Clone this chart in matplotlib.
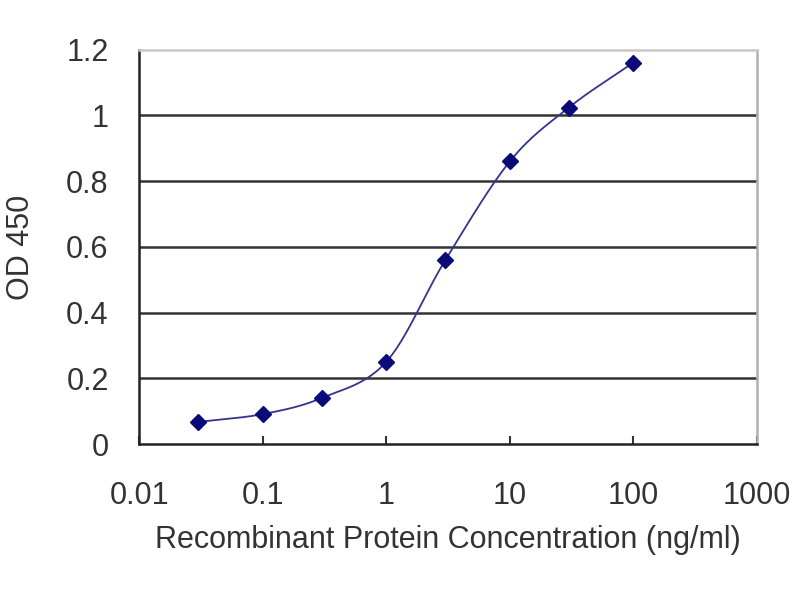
import matplotlib
matplotlib.use("Agg")
import matplotlib.pyplot as plt
import numpy as np

# concentrations (ng/ml) and OD 450 readings
conc = [0.03, 0.1, 0.3, 1, 3, 10, 30, 100]
od450 = [0.067, 0.091, 0.140, 0.250, 0.559, 0.860, 1.024, 1.161]

x_ticks = [0.01, 0.1, 1, 10, 100, 1000]
x_tick_labels = ["0.01", "0.1", "1", "10", "100", "1000"]
y_ticks = [0, 0.2, 0.4, 0.6, 0.8, 1.0, 1.2]
y_tick_labels = ["0", "0.2", "0.4", "0.6", "0.8", "1", "1.2"]


def smooth_curve(xs, ys, n=30):
    # catmull-rom through the points, in log10(x)
    lx = np.log10(xs)
    ys = np.asarray(ys, dtype=float)
    px = np.concatenate([[2 * lx[0] - lx[1]], lx, [2 * lx[-1] - lx[-2]]])
    py = np.concatenate([[2 * ys[0] - ys[1]], ys, [2 * ys[-1] - ys[-2]]])
    outx, outy = [], []
    t = np.linspace(0, 1, n)
    for i in range(1, len(px) - 2):
        for arr, out in ((px, outx), (py, outy)):
            p0, p1, p2, p3 = arr[i - 1], arr[i], arr[i + 1], arr[i + 2]
            out.extend(0.5 * ((2 * p1) + (-p0 + p2) * t
                              + (2 * p0 - 5 * p1 + 4 * p2 - p3) * t ** 2
                              + (-p0 + 3 * p1 - 3 * p2 + p3) * t ** 3))
    return 10 ** np.array(outx), np.array(outy)


plt.rcParams['font.family'] = ['Liberation Sans', 'DejaVu Sans']

fig = plt.figure(figsize=(8, 6), dpi=100)
ax = fig.add_axes([0.174, 0.26, 0.772, 0.657])

for yv in y_ticks[1:-1]:
    ax.axhline(yv, color='#333333', lw=1.8, zorder=1)

cx, cy = smooth_curve(conc, od450)
ax.plot(cx, cy, color='#34348c', lw=1.3, zorder=3)
ax.plot(conc, od450, linestyle='none', marker='D', markersize=8,
        color='#0a0a78', zorder=4)

ax.set_xscale('log')
ax.set_xlim(0.01, 1000)
ax.set_ylim(0, 1.2)
ax.set_xticks(x_ticks)
ax.set_xticklabels(x_tick_labels)
ax.xaxis.set_minor_locator(matplotlib.ticker.NullLocator())
ax.set_yticks(y_ticks)
ax.set_yticklabels(y_tick_labels)

ax.tick_params(axis='x', direction='in', length=6, width=1.5, color='#333333',
               labelsize=22, labelcolor='#333333', pad=27)
ax.tick_params(axis='y', length=0, labelsize=22, labelcolor='#333333', pad=22)

ax.spines['left'].set_color('#222222')
ax.spines['left'].set_linewidth(1.8)
ax.spines['bottom'].set_color('#222222')
ax.spines['bottom'].set_linewidth(1.8)
ax.spines['top'].set_color('#c8c8c8')
ax.spines['top'].set_linewidth(1.8)
ax.spines['right'].set_color('#b0b0b0')
ax.spines['right'].set_linewidth(1.8)

ax.set_xlabel('Recombinant Protein Concentration (ng/ml)', fontsize=22,
              color='#333333', labelpad=10)
ax.set_ylabel('OD 450', fontsize=22, color='#333333', labelpad=22)

fig.savefig('out.png', dpi=100)
